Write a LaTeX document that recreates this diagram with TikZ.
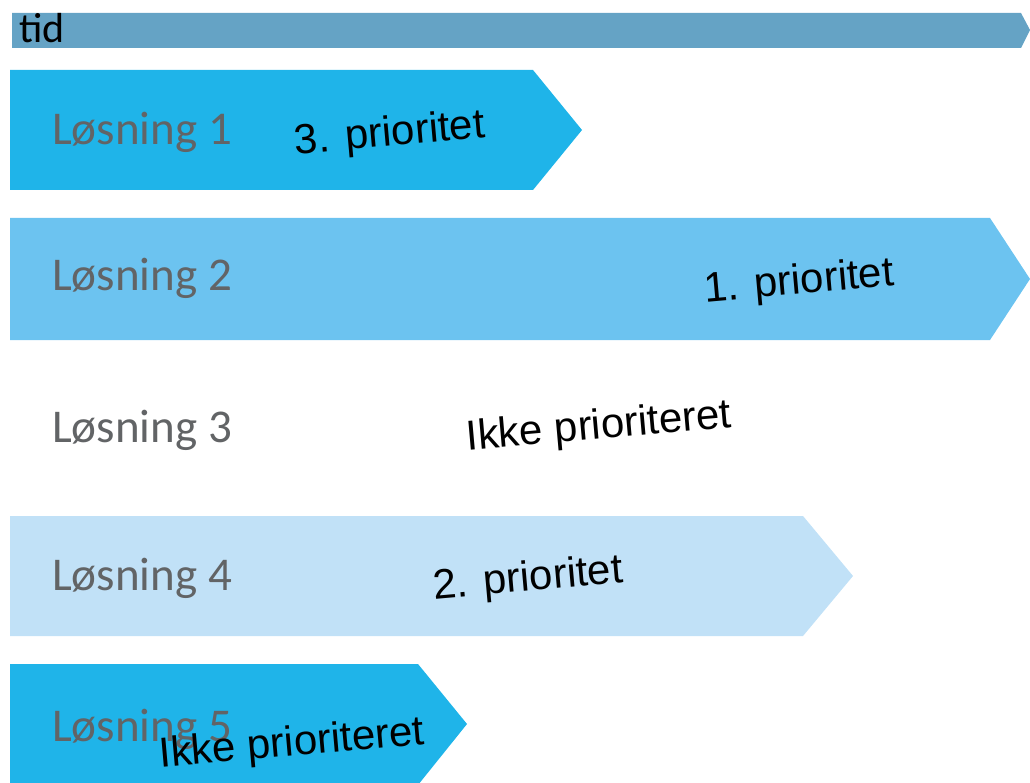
\documentclass[tikz,border=0pt]{standalone}
\usepackage{fontspec}
\setmainfont{Liberation Sans}
\newfontfamily\calibri{Carlito}
\definecolor{tidblue}{HTML}{65A3C5}
\definecolor{prioA}{HTML}{1FB4E9}
\definecolor{prioB}{HTML}{6CC3F0}
\definecolor{prioC}{HTML}{C1E1F7}
\definecolor{losgray}{HTML}{626466}
\begin{document}
\begin{tikzpicture}[x=1pt,y=-1pt,
  losn/.style={anchor=base west,inner sep=0pt,text=losgray,font=\calibri\fontsize{47}{56}\selectfont},
  prio/.style={rotate=5,inner sep=0pt,font=\fontsize{42}{50}\selectfont}]
\useasboundingbox (0,0) rectangle (1030,783);

% tidslinje
\fill[tidblue] (12,13) -- (1021,13) -- (1030,30) -- (1021,48) -- (12,48) -- cycle;
\node[anchor=base west,inner sep=0pt,font=\calibri\fontsize{42}{50}\selectfont] (tid) at (19,43) {tid};

% pile
\fill[prioA] (10,70) -- (533,70) -- (582,130) -- (533,190) -- (10,190) -- cycle;
\fill[prioB] (10,218) -- (990,218) -- (1030,279) -- (990,340) -- (10,340) -- cycle;
\fill[prioC] (10,516) -- (803,516) -- (853,576) -- (803,636) -- (10,636) -- cycle;
\fill[prioA] (10,664) -- (418,664) -- (467,724) -- (418,785) -- (10,785) -- cycle;

% løsninger
\node[losn] (l1) at (52,145) {Løsning 1};
\node[losn] (l2) at (52,291) {Løsning 2};
\node[losn] (l3) at (52,442) {Løsning 3};
\node[losn] (l4) at (52,590) {Løsning 4};
\node[losn] (l5) at (52,741) {Løsning 5};

% prioriteter
\node[prio] (p1) at (390,135) {3. prioritet};
\node[prio] (p2) at (799,283) {1. prioritet};
\node[prio] (p3) at (599,428) {Ikke prioriteret};
\node[prio] (p4) at (528,580) {2. prioritet};
\node[prio] (p5) at (292,745) {Ikke prioriteret};
\end{tikzpicture}
\end{document}
